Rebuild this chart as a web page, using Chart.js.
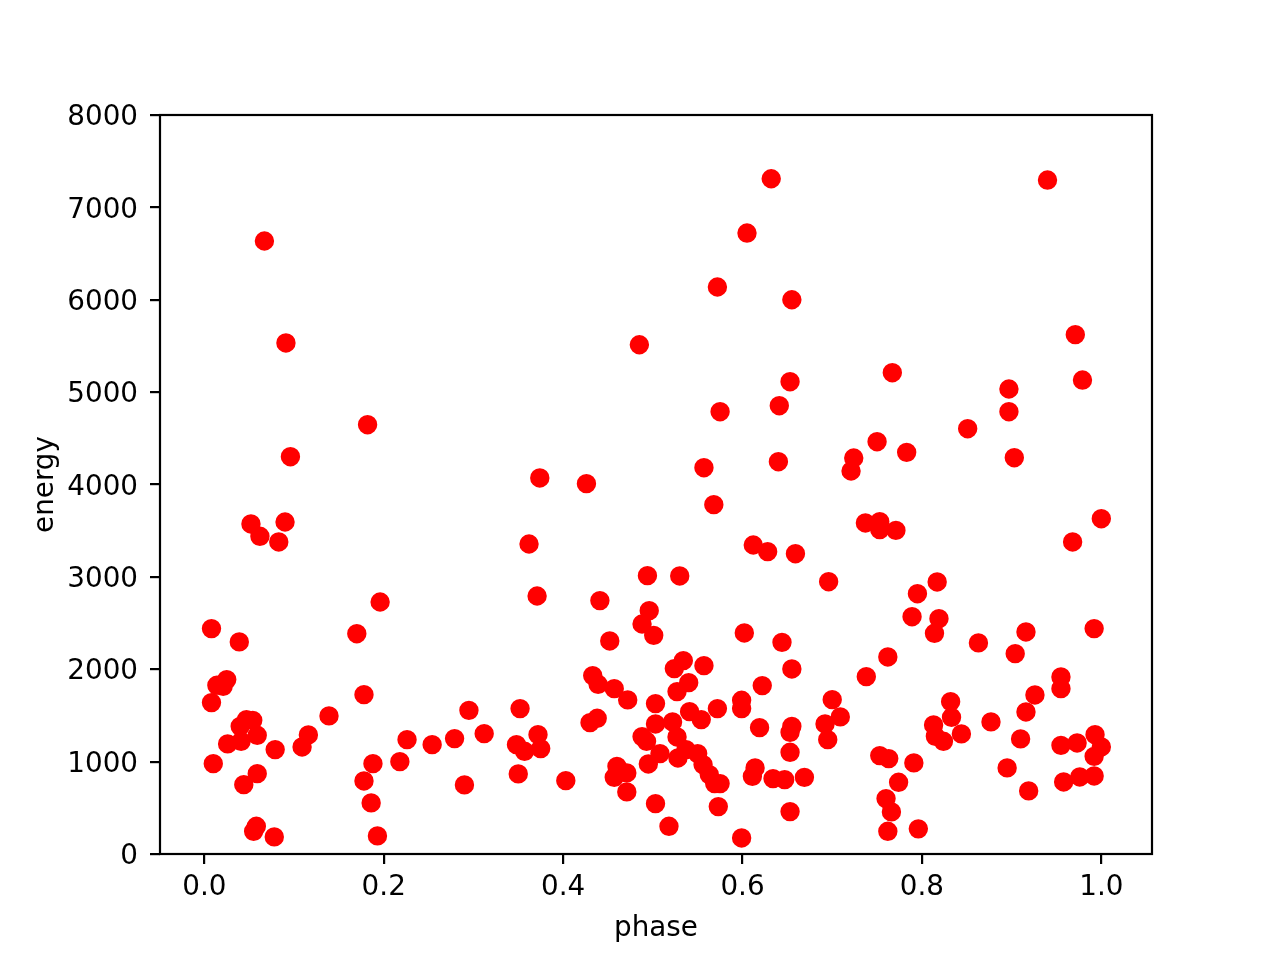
<!DOCTYPE html>
<html>
<head>
<meta charset="utf-8">
<script src="https://cdn.jsdelivr.net/npm/chart.js@4/dist/chart.umd.min.js"></script>
<style>
  html, body { margin: 0; padding: 0; background: #fff; }
  #wrap { width: 1280px; height: 960px; }
</style>
</head>
<body>
<div id="wrap"><canvas id="phaseChart" width="1280" height="960"></canvas></div>
<script>
// scatter data
const phase = [
  0.008, 0.008, 0.010, 0.014, 0.021, 0.025, 0.026, 0.039, 0.040, 0.041,
  0.044, 0.047, 0.054, 0.059, 0.052, 0.062, 0.090, 0.083, 0.055, 0.058,
  0.059, 0.078, 0.079, 0.067, 0.091, 0.096, 0.182, 0.109, 0.116, 0.139,
  0.170, 0.178, 0.178, 0.186, 0.188, 0.193, 0.196, 0.218, 0.226, 0.254,
  0.279, 0.295, 0.290, 0.312, 0.348, 0.352, 0.357, 0.350, 0.372, 0.375,
  0.362, 0.371, 0.374, 0.403, 0.426, 0.433, 0.439, 0.430, 0.438, 0.441,
  0.452, 0.457, 0.460, 0.457, 0.471, 0.471, 0.472, 0.485, 0.488, 0.488,
  0.493, 0.494, 0.495, 0.496, 0.501, 0.503, 0.503, 0.503, 0.508, 0.518,
  0.522, 0.524, 0.527, 0.527, 0.528, 0.530, 0.534, 0.537, 0.540, 0.541,
  0.550, 0.554, 0.556, 0.557, 0.557, 0.563, 0.568, 0.569, 0.575, 0.572,
  0.572, 0.573, 0.575, 0.599, 0.599, 0.599, 0.602, 0.605, 0.612, 0.611,
  0.614, 0.619, 0.622, 0.628, 0.632, 0.634, 0.640, 0.641, 0.644, 0.647,
  0.653, 0.653, 0.655, 0.653, 0.653, 0.655, 0.655, 0.659, 0.669, 0.692,
  0.695, 0.696, 0.700, 0.709, 0.721, 0.724, 0.737, 0.738, 0.750, 0.753,
  0.753, 0.753, 0.771, 0.760, 0.762, 0.763, 0.762, 0.766, 0.767, 0.774,
  0.783, 0.789, 0.791, 0.795, 0.796, 0.813, 0.814, 0.815, 0.817, 0.819,
  0.824, 0.832, 0.833, 0.844, 0.851, 0.863, 0.877, 0.895, 0.897, 0.897,
  0.903, 0.904, 0.910, 0.916, 0.916, 0.919, 0.926, 0.940, 0.955, 0.955,
  0.955, 0.958, 0.968, 0.971, 0.973, 0.976, 0.979, 0.992, 0.992, 0.992,
  0.993, 1.000, 1.000
];
const energy = [
  2440, 1639, 978, 1826, 1815, 1888, 1192, 2296, 1382, 1220,
  751, 1455, 1447, 1285, 3573, 3439, 3594, 3378, 246, 300,
  870, 185, 1130, 6636, 5532, 4301, 4647, 1159, 1289, 1495,
  2385, 1725, 791, 553, 978, 196, 2728, 1000, 1238, 1184,
  1249, 1555, 748, 1303, 1184, 1574, 1112, 867, 1292, 1141,
  3356, 2793, 4071, 794, 4009, 1931, 1837, 1422, 1469, 2743,
  2306, 1790, 949, 830, 878, 672, 1668, 5513, 2490, 1271,
  1220, 3013, 975, 2634, 2367, 1628, 1408, 545, 1087, 300,
  1430, 2007, 1758, 1267, 1040, 3010, 2093, 1130, 1855, 1541,
  1087, 1455, 968, 2039, 4182, 859, 3782, 762, 762, 1574,
  6138, 513, 4788, 1664, 1574, 174, 2393, 6722, 3345, 841,
  932, 1368, 1823, 3273, 7310, 816, 4247, 4853, 2291, 805,
  1101, 1317, 1382, 459, 5113, 6000, 2003, 3251, 830, 1408,
  1238, 2948, 1671, 1484, 4146, 4287, 3584, 1920, 4463, 1065,
  3598, 3511, 3503, 600, 2133, 1033, 246, 456, 5210, 776,
  4348, 2569, 986, 2818, 272, 1397, 2389, 1274, 2945, 2548,
  1220, 1649, 1480, 1300, 4604, 2285, 1430, 932, 5034, 4788,
  4290, 2169, 1246, 2404, 1538, 683, 1722, 7296, 1790, 1917,
  1176, 780, 3378, 5622, 1202, 834, 5131, 2440, 845, 1057,
  1292, 1159, 3630
];

const xTicks = [0.0, 0.2, 0.4, 0.6, 0.8, 1.0];
const yTicks = [0, 1000, 2000, 3000, 4000, 5000, 6000, 7000, 8000];

const tickFont = { family: 'DejaVu Sans', size: 27.8 };
const lineW = 2.2;

// matplotlib style box: draw all four spines over the points
const frame = {
  id: 'frame',
  afterDatasetsDraw(chart) {
    const { ctx, chartArea: a } = chart;
    ctx.save();
    ctx.strokeStyle = '#000';
    ctx.lineWidth = lineW;
    ctx.strokeRect(a.left, a.top, a.right - a.left, a.bottom - a.top);
    ctx.restore();
  }
};

const points = phase.map((p, i) => ({ x: p, y: energy[i] }));

new Chart(document.getElementById('phaseChart'), {
  type: 'scatter',
  data: {
    datasets: [{
      data: points,
      backgroundColor: '#ff0000',
      borderColor: '#ff0000',
      borderWidth: 2.8,
      pointRadius: 8.3,
      pointHoverRadius: 8.3
    }]
  },
  options: {
    responsive: false,
    animation: false,
    events: [],
    layout: { padding: { top: 115, right: 128, left: 0, bottom: 0 } },
    plugins: { legend: { display: false }, tooltip: { enabled: false } },
    scales: {
      x: {
        type: 'linear',
        min: -0.0494,
        max: 1.0565,
        afterFit: s => { s.height = 106; },
        afterBuildTicks: s => { s.ticks = xTicks.map(v => ({ value: v })); },
        grid: { drawOnChartArea: false, drawTicks: true, tickLength: 10, color: '#000', lineWidth: lineW },
        border: { display: false },
        ticks: {
          color: '#000',
          font: tickFont,
          padding: 7,
          maxRotation: 0,
          callback: v => v.toFixed(1)
        },
        title: {
          display: true,
          text: 'phase',
          color: '#000',
          font: tickFont,
          padding: { top: 0, bottom: 15 }
        }
      },
      y: {
        type: 'linear',
        min: 0,
        max: 8000,
        afterFit: s => { s.width = 160; },
        afterBuildTicks: s => { s.ticks = yTicks.map(v => ({ value: v })); },
        grid: { drawOnChartArea: false, drawTicks: true, tickLength: 10, color: '#000', lineWidth: lineW },
        border: { display: false },
        ticks: {
          color: '#000',
          font: tickFont,
          padding: 12,
          labelOffset: 3,
          callback: v => String(v)
        },
        title: {
          display: true,
          text: 'energy',
          color: '#000',
          font: tickFont,
          padding: { top: 29, bottom: 0 }
        }
      }
    }
  },
  plugins: [frame]
});
</script>
</body>
</html>
